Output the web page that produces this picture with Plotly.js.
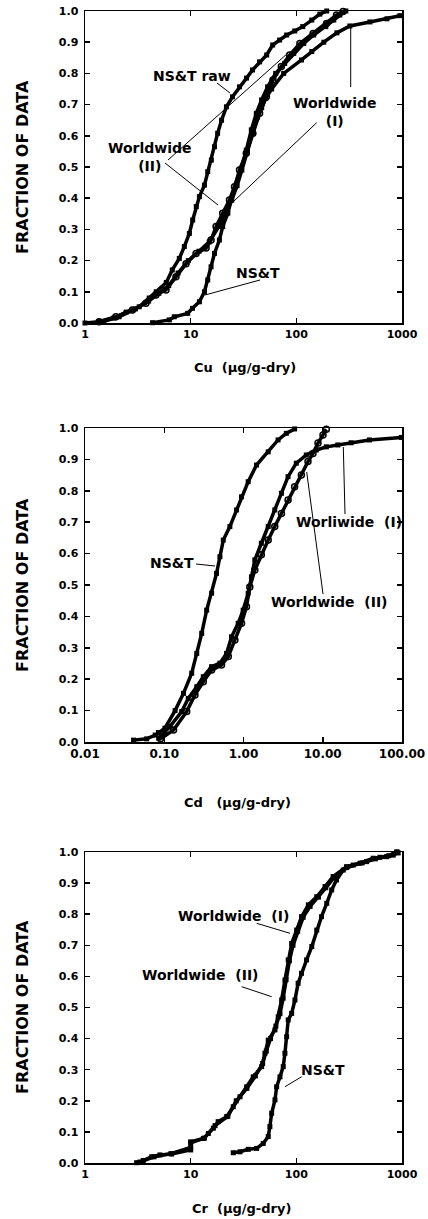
<!DOCTYPE html>
<html>
<head>
<meta charset="utf-8">
<script src="https://cdn.plot.ly/plotly-3.0.1.min.js"></script>
<style>
html,body{margin:0;padding:0;background:#fff;}
#chart{width:428px;height:1219px;}
</style>
</head>
<body>
<div id="chart"></div>
<script>
// ---------- DATA ----------
// Panel 1: Cu (µg/g-dry)
const cuRawX = [1.0,1.36,1.88,2.45,3.26,4.05,4.72,5.88,6.7,7.81,8.71,9.72,10.45,11.3,12.1,13.5,14.5,15.7,16.8,18.0,19.6,21.8,24.9,29.0,33.8,38.5,44.9,52.4,59.7,69.5,81,96.6,115,140,167,194];
const cuRawY = [0.00,0.004,0.016,0.035,0.052,0.08,0.10,0.13,0.17,0.207,0.245,0.287,0.33,0.373,0.405,0.442,0.485,0.522,0.565,0.608,0.65,0.693,0.725,0.757,0.785,0.811,0.837,0.859,0.891,0.907,0.923,0.936,0.95,0.971,0.99,1.0];
const cuW2X = [1.36,1.96,2.81,3.77,4.69,5.84,7.26,9.04,11.25,14.0,15.6,17.4,20.1,23.3,26.0,29.0,33.6,38.8,44.9,52.0,60.1,72.1,86.5,108,144,193,240,277];
const cuW2Y = [0.004,0.02,0.042,0.063,0.09,0.106,0.148,0.19,0.223,0.24,0.266,0.309,0.352,0.394,0.437,0.49,0.544,0.608,0.672,0.725,0.779,0.822,0.859,0.896,0.928,0.96,0.987,0.998];
const cuNstX = [4.36,6.28,7.0,9.37,10.4,12.1,13.5,14.5,15.6,16.8,18.7,20.1,22.5,24.2,27.0,30.1,33.6,37.5,41.8,46.9,53.5,63.7,77.6,94.5,117.5,146,190,226,258,294];
const cuNstY = [0.001,0.01,0.02,0.031,0.047,0.068,0.10,0.138,0.18,0.223,0.266,0.309,0.352,0.394,0.442,0.496,0.554,0.619,0.672,0.715,0.757,0.80,0.832,0.864,0.896,0.923,0.95,0.971,0.987,1.0];
const cuW1X = [1.5,2.1,3.0,4.0,5.0,6.2,7.6,9.5,12.0,15.0,18.5,21.5,24.5,27.5,30.5,34.5,38.5,43,47,51.3,58.4,75.9,112,140,182,242,321,497,720,955];
const cuW1Y = [0.005,0.02,0.045,0.07,0.095,0.12,0.16,0.20,0.23,0.26,0.31,0.35,0.394,0.44,0.49,0.55,0.61,0.66,0.69,0.72,0.75,0.80,0.843,0.87,0.90,0.93,0.952,0.965,0.975,0.985];

// Panel 2: Cd (µg/g-dry)
const cdNstX = [0.041,0.060,0.077,0.0845,0.102,0.137,0.175,0.222,0.257,0.297,0.343,0.396,0.457,0.504,0.556,0.673,0.817,0.944,1.146,1.46,2.05,2.73,3.47,4.42];
const cdNstY = [0.006,0.01,0.022,0.03,0.044,0.10,0.155,0.219,0.282,0.346,0.42,0.474,0.537,0.59,0.643,0.686,0.739,0.781,0.829,0.882,0.924,0.962,0.983,0.997];
const cdW1X = [0.085,0.1,0.118,0.166,0.201,0.257,0.311,0.396,0.504,0.611,0.706,0.857,0.99,1.146,1.26,1.39,1.68,2.05,2.48,3.01,3.65,4.64,6.2,8.28,11.1,15.5,22.8,38.8,98];
const cdW1Y = [0.012,0.03,0.049,0.097,0.139,0.176,0.208,0.24,0.251,0.282,0.335,0.378,0.42,0.474,0.526,0.58,0.633,0.686,0.739,0.792,0.845,0.888,0.914,0.93,0.94,0.946,0.953,0.962,0.97];
const cdW2X = [0.09,0.131,0.192,0.244,0.311,0.396,0.528,0.643,0.778,0.944,1.09,1.2,1.39,1.68,2.05,2.48,3.01,3.65,4.42,5.37,6.51,7.53,8.71,10.07,11.1];
const cdW2Y = [0.01,0.038,0.097,0.15,0.192,0.229,0.245,0.272,0.325,0.378,0.431,0.494,0.548,0.596,0.643,0.686,0.728,0.771,0.813,0.85,0.893,0.919,0.952,0.978,0.996];

// Panel 3: Cr (µg/g-dry)
const crW2X = [3.08,3.56,4.28,5.12,6.61,10,10,13.2,14.7,16.4,18.2,21.9,25.3,29.3,33.9,39.1,47.0,50.5,54.2,62.8,67.4,72.6,78.0,83.8,90.3,100.7,112,130,156,187,223,299,400,534,715,889];
const crW2Y = [0.001,0.008,0.02,0.026,0.029,0.042,0.068,0.079,0.095,0.112,0.133,0.149,0.181,0.213,0.245,0.277,0.31,0.353,0.395,0.428,0.47,0.524,0.588,0.653,0.706,0.749,0.792,0.83,0.856,0.889,0.921,0.953,0.964,0.98,0.985,1.0];
const crW1X = [3.3,4.5,6.5,10,10,13.5,17,22.5,27,34,41,48,52,57,64,70,75,80,86,93,103,116,135,162,190,230,300,420,560,750,900];
const crW1Y = [0.003,0.02,0.03,0.05,0.065,0.08,0.12,0.15,0.2,0.24,0.28,0.32,0.36,0.40,0.44,0.48,0.53,0.59,0.65,0.70,0.745,0.79,0.825,0.855,0.885,0.92,0.95,0.965,0.978,0.988,1.0];
const crNstX = [25.3,29.3,35.1,42.1,48.6,54.2,56.2,58.4,62.8,65.1,70.0,75.2,78.0,80.9,83.8,90.3,97.0,104,112,125,140,156,173,194,216,240,278,345,462,618,826,920];
const crNstY = [0.033,0.036,0.044,0.047,0.063,0.085,0.117,0.16,0.203,0.245,0.277,0.31,0.353,0.406,0.46,0.481,0.524,0.578,0.61,0.653,0.696,0.749,0.792,0.835,0.878,0.91,0.942,0.958,0.969,0.983,0.99,0.997];

// Tick labels
const yTickVals = [0,0.1,0.2,0.3,0.4,0.5,0.6,0.7,0.8,0.9,1.0];
const yTickText = ['0.0','0.1','0.2','0.3','0.4','0.5','0.6','0.7','0.8','0.9','1.0'];
const x13TickVals = [1,10,100,1000];
const x13TickText = ['1','10','100','1000'];
const x2TickVals = [0.01,0.1,1,10,100];
const x2TickText = ['0.01','0.10','1.00','10.00','100.00'];

// ---------- STYLE ----------
const W = 428, H = 1219;
const FONT = 'DejaVu Sans, Liberation Sans, sans-serif';
const px = v => v / W;
const py = v => 1 - v / H;
const xDom = [px(85), px(402)];

function tr(x, y, xa, ya, name, open) {
  return {
    x: x, y: y, xaxis: xa, yaxis: ya, name: name, type: 'scatter',
    mode: 'lines+markers', cliponaxis: false, showlegend: false,
    line: {color: '#000', width: 3.5},
    marker: open ? {symbol: 'circle-open', size: 6, color: '#000', line: {width: 1.5, color: '#000'}}
                 : {symbol: 'square', size: 5, color: '#000'},
    hoverinfo: 'skip'
  };
}

const data = [
  tr(cuRawX, cuRawY, 'x', 'y', 'NS&T raw'),
  tr(cuW2X, cuW2Y, 'x', 'y', 'Worldwide (II)', true),
  tr(cuNstX, cuNstY, 'x', 'y', 'NS&T'),
  tr(cuW1X, cuW1Y, 'x', 'y', 'Worldwide (I)'),
  tr(cdNstX, cdNstY, 'x2', 'y2', 'NS&T'),
  tr(cdW1X, cdW1Y, 'x2', 'y2', 'Worldwide (I)'),
  tr(cdW2X, cdW2Y, 'x2', 'y2', 'Worldwide (II)', true),
  tr(crW2X, crW2Y, 'x3', 'y3', 'Worldwide (II)'),
  tr(crW1X, crW1Y, 'x3', 'y3', 'Worldwide (I)'),
  tr(crNstX, crNstY, 'x3', 'y3', 'NS&T')
];

function xax(range, tv, tt, anchor, fs) {
  return {
    type: 'log', domain: xDom, range: range, anchor: anchor,
    tickmode: 'array', tickvals: tv, ticktext: tt,
    ticks: 'inside', ticklen: 5, tickwidth: 1.5, tickcolor: '#000',
    mirror: 'ticks', showline: true, linewidth: 1.5, linecolor: '#000',
    showgrid: false, zeroline: false,
    tickfont: {family: FONT, size: fs, weight: 'bold', color: '#000'}
  };
}
function yax(dom, anchor) {
  return {
    domain: dom, range: [0, 1], anchor: anchor,
    tickmode: 'array', tickvals: yTickVals, ticktext: yTickText,
    ticks: 'inside', ticklen: 5, tickwidth: 1.5, tickcolor: '#000',
    mirror: 'ticks', showline: true, linewidth: 1.5, linecolor: '#000',
    showgrid: false, zeroline: false, ticklabelstandoff: 3,
    tickfont: {family: FONT, size: 11, weight: 'bold', color: '#000'}
  };
}

function ann(text, x, y, size, angle) {
  return {
    text: text, xref: 'paper', yref: 'paper', x: px(x), y: py(y),
    xanchor: 'center', yanchor: 'middle', showarrow: false, textangle: angle || 0,
    font: {family: FONT, size: size || 14, weight: 'bold', color: '#000'}
  };
}
function lead(x0, y0, x1, y1) {
  return {type: 'line', xref: 'paper', yref: 'paper',
    x0: px(x0), y0: py(y0), x1: px(x1), y1: py(y1),
    line: {color: '#000', width: 1}};
}

const nb = '\u00a0';
const annotations = [
  // panel 1
  ann('NS&T raw', 192, 76),
  ann('Worldwide<br>(I)', 335, 112),
  ann('Worldwide<br>(II)', 150, 157),
  ann('NS&T', 258, 273),
  ann('Cu' + nb + nb + '(µg/g-dry)', 245, 368, 13),
  ann('FRACTION OF DATA', 22, 167, 16, -90),
  // panel 2
  ann('NS&T', 172, 563),
  ann('Worliwide' + nb + nb + '(I)', 349, 522),
  ann('Worldwide' + nb + nb + '(II)', 329, 602),
  ann('Cd' + nb + nb + nb + '(µg/g-dry)', 237, 802, 13),
  ann('FRACTION OF DATA', 22, 585, 16, -90),
  // panel 3
  ann('Worldwide' + nb + nb + '(I)', 233, 916),
  ann('Worldwide' + nb + nb + '(II)', 200, 975),
  ann('NS&T', 323, 1070),
  ann('Cr' + nb + nb + '(µg/g-dry)', 241, 1208, 13),
  ann('FRACTION OF DATA', 22, 1007, 16, -90)
];

const shapes = [
  lead(217, 83, 230, 93),
  lead(350.7, 87, 350.7, 27),
  lead(316.7, 122.7, 233.3, 201.7),
  lead(168, 160, 288, 53),
  lead(165, 163, 218, 205),
  lead(260, 280, 205, 295),
  lead(196, 564, 215, 566),
  lead(345, 514, 343.3, 447),
  lead(323, 594, 306.7, 472),
  lead(256.7, 923.3, 290, 933.3),
  lead(241.7, 986.7, 271.7, 996.7),
  lead(301.7, 1076.7, 285, 1086.7)
];

const layout = {
  width: W, height: H,
  margin: {l: 0, r: 0, t: 0, b: 0},
  paper_bgcolor: '#fff', plot_bgcolor: '#fff',
  showlegend: false,
  font: {family: FONT, color: '#000'},
  xaxis: xax([0, 3], x13TickVals, x13TickText, 'y', 11),
  yaxis: yax([py(323), py(11)], 'x'),
  xaxis2: xax([-2, 2], x2TickVals, x2TickText, 'y2', 12),
  yaxis2: yax([py(742), py(428)], 'x2'),
  xaxis3: xax([0, 3], x13TickVals, x13TickText, 'y3', 11),
  yaxis3: yax([py(1163), py(852)], 'x3'),
  annotations: annotations,
  shapes: shapes
};

Plotly.newPlot('chart', data, layout, {staticPlot: true, displayModeBar: false});
</script>
</body>
</html>
